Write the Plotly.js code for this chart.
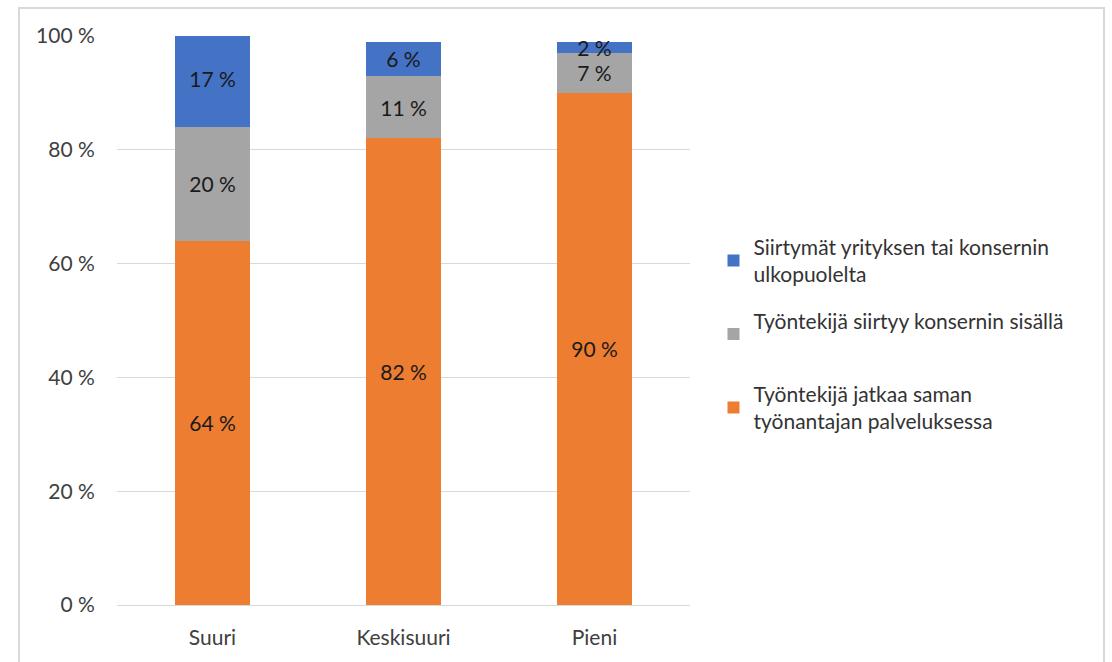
<!DOCTYPE html>
<html>
<head>
<meta charset="utf-8">
<script src="https://cdn.plot.ly/plotly-3.0.1.min.js"></script>
<style>body{margin:0;padding:0;background:#fff}#chart{width:1112px;height:662px}</style>
</head>
<body>
<div id="chart"></div>
<script>
const categories = ["Suuri", "Keskisuuri", "Pieni"];
const sameEmployer = [64, 82, 90];
const withinGroup = [20, 11, 7];
const fromOutside = [17, 6, 2];
const seriesNames = [
  "Työntekijä jatkaa saman<br>työnantajan palveluksessa",
  "Työntekijä siirtyy konsernin sisällä<br> ",
  "Siirtymät yrityksen tai konsernin<br>ulkopuolelta"
];
const colors = ["#ED7D31", "#A5A5A5", "#4472C4"];
const yTicks = [0, 20, 40, 60, 80, 100];

const font = "Lato, 'Open Sans', sans-serif";
const series = [sameEmployer, withinGroup, fromOutside];
const traces = series.map((vals, i) => ({
  type: "bar",
  x: categories,
  y: vals,
  name: seriesNames[i],
  legendgroup: "g" + i,
  legendrank: 3 - i,
  marker: {color: colors[i]},
  text: vals.map(v => v + " %"),
  textposition: "inside",
  insidetextanchor: "middle",
  textfont: {family: font, size: 21, color: "#1a1a1a"},
  constraintext: "none",
  hoverinfo: "skip"
}));

const layout = {
  width: 1112, height: 662,
  margin: {l: 117, r: 422, t: 36, b: 57},
  barmode: "stack",
  bargap: 0.61,
  paper_bgcolor: "#fff",
  plot_bgcolor: "#fff",
  font: {family: font, size: 21, color: "#404040"},
  showlegend: true,
  legend: {
    x: 1.041, y: 0.665, xanchor: "left", yanchor: "top",
    traceorder: "grouped",
    tracegroupgap: 16,
    font: {family: font, size: 21, color: "#333333"},
    itemwidth: 30
  },
  xaxis: {
    type: "category",
    tickfont: {family: font, size: 21, color: "#404040"},
    showline: true, linecolor: "#d9d9d9", linewidth: 1,
    ticks: "outside", ticklen: 14, tickcolor: "rgba(0,0,0,0)",
    fixedrange: true
  },
  yaxis: {
    range: [0, 100],
    tickvals: yTicks,
    ticktext: yTicks.map(v => v + " %"),
    tickfont: {family: font, size: 21, color: "#404040"},
    gridcolor: "#d9d9d9", gridwidth: 1,
    zeroline: false, showline: false,
    ticks: "outside", ticklen: 17, tickcolor: "rgba(0,0,0,0)",
    fixedrange: true
  },
  shapes: [{
    type: "rect", xref: "paper", yref: "paper",
    x0: (19 - 117) / 573, x1: (1104 - 117) / 573,
    y0: (605 - 700) / 569, y1: (605 - 8) / 569,
    line: {color: "#d9d9d9", width: 2},
    fillcolor: "rgba(0,0,0,0)", layer: "below"
  }]
};

Plotly.newPlot("chart", traces, layout, {displayModeBar: false, staticPlot: true});
</script>
</body>
</html>
